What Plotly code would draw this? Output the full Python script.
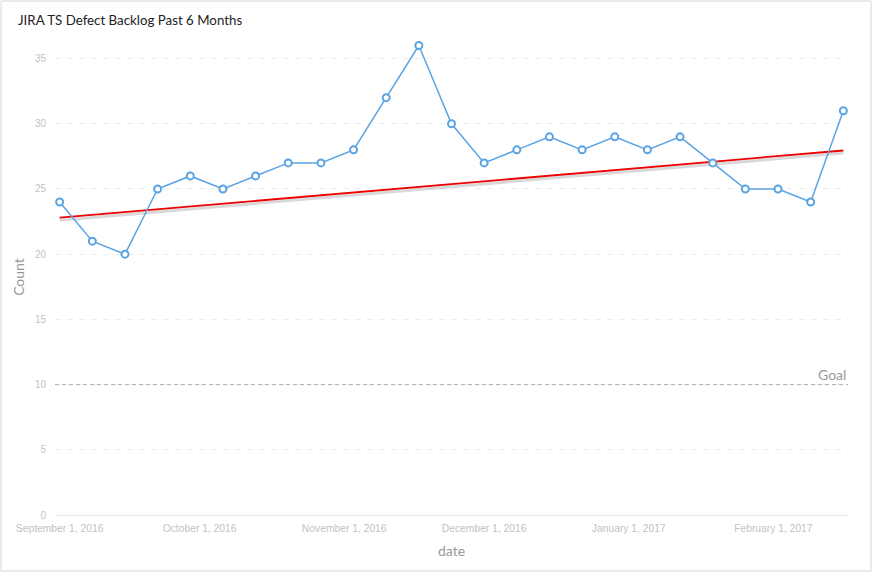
import plotly.graph_objects as go
import pandas as pd


####################################################
# DADOS
####################################################

datas = pd.date_range("2016-09-01", periods=25, freq="7D")

backlog = [24, 21, 20, 25, 26, 25, 26, 27, 27, 28, 32, 36, 30,
           27, 28, 29, 28, 29, 28, 29, 27, 25, 25, 24, 31]

tendencia_datas = [datas[0], datas[-1]]
tendencia = [22.8, 27.95]

meta = 10

azul = "#5aa3e2"


####################################################
# GRÁFICO
####################################################

fig = go.Figure()

# sombra da linha de tendência
fig.add_trace(go.Scatter(
    x=tendencia_datas,
    y=[v - 0.2 for v in tendencia],
    mode="lines",
    line=dict(color="rgba(0,0,0,0.15)", width=3),
    hoverinfo="skip",
    showlegend=False
))

fig.add_trace(go.Scatter(
    x=tendencia_datas,
    y=tendencia,
    mode="lines",
    line=dict(color="#ee0000", width=1.8),
    showlegend=False
))

fig.add_trace(go.Scatter(
    x=datas,
    y=backlog,
    mode="lines+markers",
    line=dict(color=azul, width=1.5),
    marker=dict(
        symbol="circle",
        size=7,
        color="white",
        line=dict(color=azul, width=2)
    ),
    showlegend=False
))

fig.add_hline(
    y=meta,
    line=dict(color="#b0b0b0", width=1, dash="4px,3px")
)

fig.add_annotation(
    x=1, y=meta,
    xref="paper", yref="y",
    text="Goal",
    showarrow=False,
    xanchor="right",
    yanchor="bottom",
    font=dict(family="Lato", size=14, color="#999999")
)

# borda do cartão
fig.add_shape(
    type="rect",
    xref="paper", yref="paper",
    x0=-0.068, x1=1.029,
    y0=-0.1176, y1=1.0798,
    line=dict(color="#d6d6d6", width=1),
    layer="below"
)

fig.update_layout(
    width=872,
    height=572,
    template="plotly_white",
    plot_bgcolor="white",
    paper_bgcolor="white",
    margin=dict(l=55, r=24, t=39, b=57),
    title=dict(
        text="JIRA TS Defect Backlog Past 6 Months",
        x=18 / 872,
        xanchor="left",
        y=1 - 20 / 572,
        yanchor="middle",
        font=dict(family="Lato", size=13.3, color="#222222")
    ),
    xaxis=dict(
        range=["2016-08-31", "2017-02-17"],
        tick0="2016-09-01",
        dtick="M1",
        tickformat="%B %-d, %Y",
        tickfont=dict(family="Liberation Sans", size=10.3, color="#c2c2c2"),
        ticklabelstandoff=4,
        showgrid=False,
        showline=True,
        linecolor="#e6e6e6",
        linewidth=1,
        zeroline=False,
        title=dict(
            text="date",
            font=dict(family="Lato", size=14, color="#999999"),
            standoff=12
        )
    ),
    yaxis=dict(
        range=[0, 36.5],
        dtick=5,
        tickfont=dict(family="Liberation Sans", size=10, color="#c2c2c2"),
        showgrid=True,
        gridcolor="#eeeeee",
        griddash="6px,6px",
        gridwidth=1,
        zeroline=False,
        ticklabelstandoff=8,
        title=dict(
            text="Count",
            font=dict(family="Lato", size=14, color="#999999"),
            standoff=6
        )
    )
)

fig.write_html(
    "out.html",
    config={"displayModeBar": False},
    post_script="document.body.style.margin='0';"
)
